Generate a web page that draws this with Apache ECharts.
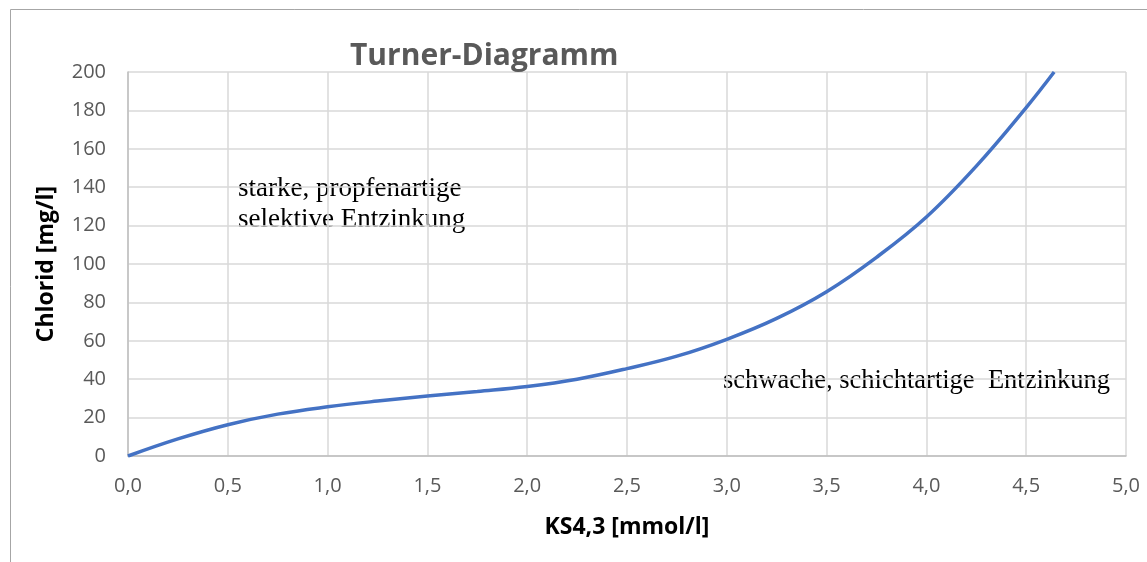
<!DOCTYPE html>
<html>
<head>
<meta charset="utf-8">
<script src="https://cdn.jsdelivr.net/npm/echarts@6/dist/echarts.min.js"></script>
<style>
  html, body { margin: 0; padding: 0; background: #fff; }
  #chart { width: 1147px; height: 562px; }
</style>
</head>
<body>
<div id="chart"></div>
<script>
// KS4,3 [mmol/l] vs Chlorid [mg/l]
const ksValues = [0, 0.25, 0.5, 0.75, 1.0, 1.25, 1.5, 1.75, 2.0, 2.25, 2.5, 2.75, 3.0, 3.25, 3.5, 3.75, 4.0, 4.25, 4.5, 4.64];
const chloridValues = [0, 8.9, 16.3, 21.8, 25.6, 28.6, 31.2, 33.6, 36.2, 40, 45.5, 52, 60.8, 71.7, 85.6, 103.5, 124.5, 151, 181.5, 200];

const xTicks = { min: 0, max: 5, interval: 0.5 };
const yTicks = { min: 0, max: 200, interval: 20 };

const labelColor = '#595959';
const gridColor = '#d9d9d9';
const axisColor = '#bfbfbf';

const chart = echarts.init(document.getElementById('chart'));

chart.setOption({
  backgroundColor: '#fff',
  animation: false,
  title: {
    text: 'Turner-Diagramm',
    left: 345,
    top: 36,
    textStyle: { fontFamily: 'Open Sans', fontSize: 30, fontWeight: 'bold', color: labelColor }
  },
  grid: { left: 128, right: 21, top: 72, bottom: 106 },
  xAxis: {
    type: 'value',
    min: xTicks.min,
    max: xTicks.max,
    interval: xTicks.interval,
    name: 'KS4,3 [mmol/l]',
    nameLocation: 'middle',
    nameGap: 60,
    nameTextStyle: { fontFamily: 'Open Sans', fontSize: 23, fontWeight: 'bold', color: '#000' },
    axisLine: { show: true, lineStyle: { color: axisColor, width: 1.5 } },
    axisTick: { show: false },
    axisLabel: {
      margin: 20,
      fontFamily: 'Open Sans',
      fontSize: 20,
      color: labelColor,
      formatter: v => v.toFixed(1).replace('.', ',')
    },
    splitLine: { show: true, lineStyle: { color: gridColor, width: 1.5 } }
  },
  yAxis: {
    type: 'value',
    min: yTicks.min,
    max: yTicks.max,
    interval: yTicks.interval,
    name: 'Chlorid [mg/l]',
    nameLocation: 'middle',
    nameGap: 70,
    nameTextStyle: { fontFamily: 'Open Sans', fontSize: 23, fontWeight: 'bold', color: '#000' },
    axisLine: { show: true, lineStyle: { color: axisColor, width: 1.5 } },
    axisTick: { show: false },
    axisLabel: { margin: 22, fontFamily: 'Open Sans', fontSize: 20, color: labelColor },
    splitLine: { show: true, lineStyle: { color: gridColor, width: 1.5 } }
  },
  series: [
    {
      type: 'line',
      data: ksValues.map((x, i) => [x, chloridValues[i]]),
      smooth: 0.4,
      showSymbol: false,
      lineStyle: { color: '#4472c4', width: 3.5 },
      clip: true
    }
  ],
  graphic: [
    {
      type: 'rect',
      left: 8,
      top: 7,
      shape: { width: 1160, height: 600 },
      style: { fill: 'none', stroke: '#a6a6a6', lineWidth: 1 },
      silent: true,
      z: -1
    },
    {
      type: 'text',
      left: 238,
      top: 173,
      style: {
        text: 'starke, propfenartige\nselektive Entzinkung',
        font: '27px "Liberation Serif"',
        lineHeight: 31,
        fill: '#000'
      }
    },
    {
      type: 'text',
      left: 723,
      top: 368,
      style: {
        text: 'schwache, schichtartige  Entzinkung',
        font: '26.5px "Liberation Serif"',
        fill: '#000'
      }
    }
  ]
});
</script>
</body>
</html>
